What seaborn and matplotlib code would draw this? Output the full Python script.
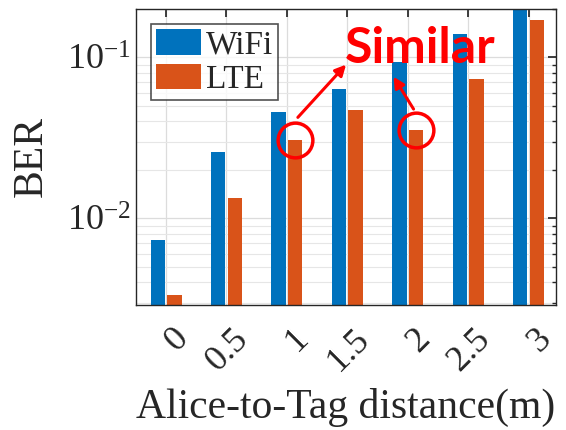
import numpy as np
import pandas as pd
import seaborn as sns
import matplotlib.pyplot as plt
import matplotlib.transforms as mtransforms
from matplotlib.patches import Patch

distances = ["0", "0.5", "1", "1.5", "2", "2.5", "3"]
wifi_ber = [0.0073, 0.0258, 0.0457, 0.064, 0.0935, 0.140, 0.25]
lte_ber = [0.00334, 0.0133, 0.0305, 0.0469, 0.0352, 0.074, 0.171]
series = ["WiFi", "LTE"]
colors = ["#0072BD", "#D95319"]

df = pd.DataFrame({
    "dist": distances * 2,
    "ber": wifi_ber + lte_ber,
    "sig": [series[0]] * len(distances) + [series[1]] * len(distances),
})

sns.set_theme(style="white")
plt.rcParams["font.family"] = ["Liberation Serif", "DejaVu Serif"]
plt.rcParams["mathtext.fontset"] = "stix"
plt.rcParams["axes.unicode_minus"] = False

fig = plt.figure(figsize=(5.66, 4.30), dpi=100)
ax = fig.add_axes([0.240, 0.291, 0.742, 0.688])
ax.set_yscale("log")

sns.barplot(data=df, x="dist", y="ber", hue="sig", order=distances,
            hue_order=series, palette=colors, width=0.55, gap=0.14,
            saturation=1, edgecolor="none", ax=ax, legend=False)

ax.set_ylim(0.0029, 0.2)
ax.set_xlim(-0.5, 6.45)

# matlab-like box, grid and ticks
ax.grid(True, which="major", axis="both", color="#dcdcdc", lw=0.9)
ax.grid(True, which="minor", axis="y", color="#e6e6e6", lw=0.8)
ax.set_axisbelow(True)
for s in ax.spines.values():
    s.set_color("#262626")
    s.set_linewidth(1.0)
ax.tick_params(which="both", direction="in", top=True, right=True,
               color="#262626")
ax.tick_params(which="major", length=6, labelsize=26)
ax.tick_params(which="minor", length=3)
ax.tick_params(axis="x", which="minor", top=False, bottom=False)

ax.set_xticks(range(len(distances)))
ax.set_xticklabels(distances, rotation=45, ha="right", va="center",
                   rotation_mode="anchor")
offset = mtransforms.ScaledTranslation(0.17, -0.24, fig.dpi_scale_trans)
for lbl in ax.get_xticklabels():
    lbl.set_transform(lbl.get_transform() + offset)

ax.set_xlabel("Alice-to-Tag distance(m)", fontsize=30, labelpad=8)
ax.set_ylabel("BER", fontsize=30, labelpad=12)

handles = [Patch(facecolor=c, edgecolor="none") for c in colors]
leg = ax.legend(handles, series, loc="upper left", fontsize=24,
                frameon=True, fancybox=False, handlelength=1.35,
                handleheight=0.8, handletextpad=0.15, borderpad=0.15,
                labelspacing=0.1, borderaxespad=0.45)
leg.get_frame().set_edgecolor("#262626")
leg.get_frame().set_linewidth(1.2)

# annotations
red = "#ff0000"
ax.plot([2.13, 4.13], [lte_ber[2], lte_ber[4]], "o", mfc="none", mec=red,
        ms=25, mew=2.5, clip_on=False)
arrow = dict(arrowstyle="-|>", color=red, lw=2.2, mutation_scale=16)
ax.annotate("", xy=(3.01, 0.093), xytext=(2.15, 0.0412), arrowprops=arrow)
ax.annotate("", xy=(3.74, 0.0785), xytext=(4.12, 0.0462), arrowprops=arrow)
ax.text(4.2, 0.113, "Similar", color=red, fontsize=36, fontweight="bold",
        family=["Lato", "DejaVu Sans"], ha="center", va="center")

fig.savefig("out.png", dpi=100)
